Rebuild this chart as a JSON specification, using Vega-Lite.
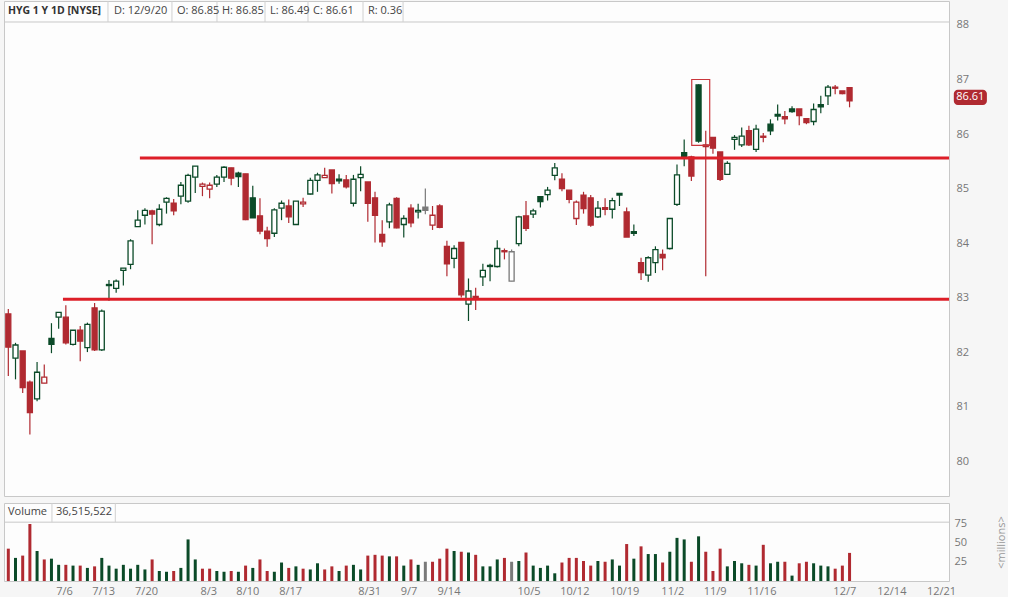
{
  "$schema": "https://vega.github.io/schema/vega-lite/v6.json",
  "background": "#f6f6f6",
  "padding": {"left": 3, "top": 0, "right": 0, "bottom": 0},
  "spacing": 5,
  "datasets": {
    "k": [
      {"i":0,"o":82.70,"h":82.79,"l":81.56,"c":82.09,"d":"d","v":42},
      {"i":1,"o":81.89,"h":82.17,"l":81.50,"c":82.13,"d":"u","v":30},
      {"i":2,"o":82.02,"h":82.02,"l":81.25,"c":81.35,"d":"d","v":33},
      {"i":3,"o":81.45,"h":81.48,"l":80.49,"c":80.89,"d":"d","v":74},
      {"i":4,"o":81.14,"h":81.82,"l":81.10,"c":81.63,"d":"u","v":39},
      {"i":5,"o":81.43,"h":81.77,"l":81.43,"c":81.54,"d":"d","v":28},
      {"i":6,"o":82.25,"h":82.53,"l":81.98,"c":82.14,"d":"u","v":29},
      {"i":7,"o":82.64,"h":82.73,"l":82.43,"c":82.73,"d":"u","v":21},
      {"i":8,"o":82.64,"h":82.86,"l":82.14,"c":82.17,"d":"d","v":21},
      {"i":9,"o":82.14,"h":82.40,"l":82.12,"c":82.40,"d":"u","v":20},
      {"i":10,"o":82.40,"h":82.48,"l":81.83,"c":82.20,"d":"d","v":20},
      {"i":11,"o":82.08,"h":82.54,"l":82.00,"c":82.51,"d":"u","v":17},
      {"i":12,"o":82.81,"h":82.90,"l":82.02,"c":82.04,"d":"d","v":19},
      {"i":13,"o":82.04,"h":82.78,"l":82.02,"c":82.75,"d":"u","v":30},
      {"i":14,"o":83.24,"h":83.32,"l":82.94,"c":83.22,"d":"u","v":20},
      {"i":15,"o":83.17,"h":83.33,"l":83.09,"c":83.30,"d":"u","v":16},
      {"i":16,"o":83.50,"h":83.54,"l":83.22,"c":83.54,"d":"u","v":21},
      {"i":17,"o":83.61,"h":84.07,"l":83.52,"c":84.04,"d":"u","v":16},
      {"i":18,"o":84.30,"h":84.60,"l":84.30,"c":84.42,"d":"u","v":21},
      {"i":19,"o":84.51,"h":84.64,"l":84.34,"c":84.60,"d":"u","v":15},
      {"i":20,"o":84.59,"h":84.61,"l":83.98,"c":84.53,"d":"d","v":28},
      {"i":21,"o":84.34,"h":84.71,"l":84.31,"c":84.62,"d":"u","v":13},
      {"i":22,"o":84.75,"h":84.84,"l":84.54,"c":84.82,"d":"u","v":12},
      {"i":23,"o":84.73,"h":84.81,"l":84.51,"c":84.59,"d":"d","v":13},
      {"i":24,"o":84.86,"h":85.12,"l":84.71,"c":85.06,"d":"u","v":17},
      {"i":25,"o":84.77,"h":85.27,"l":84.74,"c":85.24,"d":"u","v":54},
      {"i":26,"o":85.21,"h":85.41,"l":84.92,"c":85.41,"d":"u","v":28},
      {"i":27,"o":85.04,"h":85.11,"l":84.86,"c":85.08,"d":"d","v":16},
      {"i":28,"o":84.99,"h":85.11,"l":84.82,"c":85.06,"d":"d","v":16},
      {"i":29,"o":85.08,"h":85.25,"l":85.03,"c":85.21,"d":"u","v":13},
      {"i":30,"o":85.21,"h":85.41,"l":85.12,"c":85.39,"d":"u","v":12},
      {"i":31,"o":85.38,"h":85.38,"l":85.06,"c":85.19,"d":"d","v":13},
      {"i":32,"o":85.28,"h":85.31,"l":85.03,"c":85.22,"d":"u","v":12},
      {"i":33,"o":85.27,"h":85.27,"l":84.42,"c":84.43,"d":"d","v":20},
      {"i":34,"o":84.83,"h":85.05,"l":84.46,"c":84.46,"d":"u","v":17},
      {"i":35,"o":84.50,"h":84.82,"l":84.16,"c":84.22,"d":"d","v":28},
      {"i":36,"o":84.22,"h":84.30,"l":83.93,"c":84.08,"d":"d","v":13},
      {"i":37,"o":84.18,"h":84.64,"l":84.11,"c":84.61,"d":"u","v":12},
      {"i":38,"o":84.64,"h":84.78,"l":84.42,"c":84.73,"d":"u","v":24},
      {"i":39,"o":84.68,"h":84.80,"l":84.37,"c":84.48,"d":"d","v":17},
      {"i":40,"o":84.34,"h":84.77,"l":84.33,"c":84.77,"d":"u","v":19},
      {"i":41,"o":84.72,"h":84.83,"l":84.66,"c":84.75,"d":"d","v":16},
      {"i":42,"o":84.90,"h":85.20,"l":84.89,"c":85.15,"d":"u","v":15},
      {"i":43,"o":85.15,"h":85.29,"l":84.94,"c":85.25,"d":"u","v":23},
      {"i":44,"o":85.20,"h":85.38,"l":85.20,"c":85.24,"d":"d","v":15},
      {"i":45,"o":85.34,"h":85.34,"l":84.91,"c":85.09,"d":"d","v":19},
      {"i":46,"o":85.17,"h":85.26,"l":85.09,"c":85.14,"d":"u","v":13},
      {"i":47,"o":85.16,"h":85.25,"l":85.00,"c":85.03,"d":"d","v":20},
      {"i":48,"o":84.73,"h":85.25,"l":84.67,"c":85.17,"d":"u","v":21},
      {"i":49,"o":85.20,"h":85.41,"l":84.95,"c":85.26,"d":"u","v":15},
      {"i":50,"o":85.12,"h":85.12,"l":84.39,"c":84.73,"d":"d","v":33},
      {"i":51,"o":84.83,"h":84.94,"l":84.01,"c":84.51,"d":"d","v":34},
      {"i":52,"o":84.16,"h":84.42,"l":83.93,"c":84.02,"d":"d","v":33},
      {"i":53,"o":84.39,"h":84.74,"l":84.27,"c":84.70,"d":"u","v":32},
      {"i":54,"o":84.82,"h":84.84,"l":84.27,"c":84.28,"d":"d","v":32},
      {"i":55,"o":84.34,"h":84.51,"l":84.10,"c":84.45,"d":"u","v":20},
      {"i":56,"o":84.64,"h":84.71,"l":84.29,"c":84.37,"d":"d","v":28},
      {"i":57,"o":84.57,"h":84.72,"l":84.45,"c":84.60,"d":"u","v":21},
      {"i":58,"o":84.66,"h":85.00,"l":84.53,"c":84.60,"d":"f","v":25},
      {"i":59,"o":84.33,"h":84.68,"l":84.24,"c":84.51,"d":"d","v":25},
      {"i":60,"o":84.68,"h":84.71,"l":84.27,"c":84.29,"d":"d","v":29},
      {"i":61,"o":83.94,"h":84.04,"l":83.39,"c":83.62,"d":"d","v":42},
      {"i":62,"o":83.72,"h":83.96,"l":83.54,"c":83.90,"d":"u","v":39},
      {"i":63,"o":84.01,"h":84.01,"l":83.00,"c":83.05,"d":"d","v":38},
      {"i":64,"o":82.88,"h":83.35,"l":82.57,"c":83.12,"d":"u","v":37},
      {"i":65,"o":83.02,"h":83.18,"l":82.77,"c":82.97,"d":"d","v":34},
      {"i":66,"o":83.38,"h":83.62,"l":83.21,"c":83.50,"d":"u","v":19},
      {"i":67,"o":83.57,"h":83.62,"l":83.30,"c":83.59,"d":"u","v":19},
      {"i":68,"o":83.57,"h":84.05,"l":83.55,"c":83.90,"d":"u","v":28},
      {"i":69,"o":83.86,"h":83.90,"l":83.70,"c":83.84,"d":"d","v":30},
      {"i":70,"o":83.30,"h":83.88,"l":83.30,"c":83.84,"d":"f","v":25},
      {"i":71,"o":83.99,"h":84.50,"l":83.94,"c":84.48,"d":"u","v":26},
      {"i":72,"o":84.50,"h":84.77,"l":84.22,"c":84.27,"d":"d","v":37},
      {"i":73,"o":84.53,"h":84.63,"l":84.46,"c":84.59,"d":"u","v":20},
      {"i":74,"o":84.85,"h":84.85,"l":84.65,"c":84.76,"d":"u","v":17},
      {"i":75,"o":84.89,"h":85.03,"l":84.78,"c":84.97,"d":"u","v":20},
      {"i":76,"o":85.24,"h":85.47,"l":85.15,"c":85.38,"d":"u","v":10},
      {"i":77,"o":85.17,"h":85.28,"l":84.95,"c":85.00,"d":"d","v":24},
      {"i":78,"o":84.97,"h":84.97,"l":84.73,"c":84.80,"d":"d","v":30},
      {"i":79,"o":84.45,"h":84.78,"l":84.33,"c":84.75,"d":"d","v":30},
      {"i":80,"o":84.88,"h":84.94,"l":84.54,"c":84.63,"d":"d","v":26},
      {"i":81,"o":84.83,"h":84.88,"l":84.30,"c":84.33,"d":"d","v":20},
      {"i":82,"o":84.48,"h":84.77,"l":84.46,"c":84.64,"d":"u","v":26},
      {"i":83,"o":84.65,"h":84.82,"l":84.51,"c":84.62,"d":"d","v":25},
      {"i":84,"o":84.62,"h":84.83,"l":84.45,"c":84.78,"d":"u","v":28},
      {"i":85,"o":84.91,"h":84.91,"l":84.68,"c":84.88,"d":"u","v":20},
      {"i":86,"o":84.57,"h":84.65,"l":84.11,"c":84.11,"d":"d","v":48},
      {"i":87,"o":84.21,"h":84.34,"l":84.13,"c":84.18,"d":"u","v":29},
      {"i":88,"o":83.64,"h":83.73,"l":83.32,"c":83.46,"d":"d","v":45},
      {"i":89,"o":83.41,"h":83.76,"l":83.29,"c":83.73,"d":"u","v":35},
      {"i":90,"o":83.64,"h":83.94,"l":83.45,"c":83.88,"d":"u","v":35},
      {"i":91,"o":83.79,"h":83.88,"l":83.50,"c":83.73,"d":"d","v":24},
      {"i":92,"o":83.90,"h":84.45,"l":83.88,"c":84.45,"d":"u","v":38},
      {"i":93,"o":84.71,"h":85.44,"l":84.68,"c":85.25,"d":"u","v":56},
      {"i":94,"o":85.66,"h":85.90,"l":85.41,"c":85.57,"d":"u","v":54},
      {"i":95,"o":85.58,"h":85.60,"l":85.14,"c":85.23,"d":"d","v":25},
      {"i":96,"o":86.90,"h":86.91,"l":85.84,"c":85.87,"d":"u","v":58},
      {"i":97,"o":85.80,"h":86.06,"l":83.39,"c":85.77,"d":"d","v":38},
      {"i":98,"o":85.94,"h":85.94,"l":85.64,"c":85.74,"d":"d","v":13},
      {"i":99,"o":85.67,"h":85.67,"l":85.14,"c":85.17,"d":"d","v":42},
      {"i":100,"o":85.26,"h":85.50,"l":85.26,"c":85.46,"d":"u","v":19},
      {"i":101,"o":85.90,"h":85.98,"l":85.71,"c":85.94,"d":"u","v":26},
      {"i":102,"o":85.80,"h":86.12,"l":85.76,"c":85.96,"d":"u","v":23},
      {"i":103,"o":86.06,"h":86.15,"l":85.78,"c":85.80,"d":"d","v":21},
      {"i":104,"o":85.72,"h":86.17,"l":85.67,"c":86.09,"d":"u","v":20},
      {"i":105,"o":85.96,"h":86.02,"l":85.85,"c":85.94,"d":"d","v":47},
      {"i":106,"o":86.18,"h":86.27,"l":85.98,"c":86.06,"d":"u","v":23},
      {"i":107,"o":86.36,"h":86.54,"l":86.25,"c":86.33,"d":"u","v":25},
      {"i":108,"o":86.32,"h":86.42,"l":86.18,"c":86.28,"d":"d","v":25},
      {"i":109,"o":86.46,"h":86.51,"l":86.39,"c":86.41,"d":"u","v":7},
      {"i":110,"o":86.46,"h":86.46,"l":86.16,"c":86.34,"d":"d","v":23},
      {"i":111,"o":86.28,"h":86.28,"l":86.18,"c":86.21,"d":"d","v":25},
      {"i":112,"o":86.23,"h":86.56,"l":86.16,"c":86.45,"d":"u","v":23},
      {"i":113,"o":86.54,"h":86.70,"l":86.38,"c":86.50,"d":"u","v":20},
      {"i":114,"o":86.70,"h":86.90,"l":86.53,"c":86.86,"d":"u","v":19},
      {"i":115,"o":86.86,"h":86.90,"l":86.73,"c":86.84,"d":"d","v":16},
      {"i":116,"o":86.79,"h":86.79,"l":86.73,"c":86.74,"d":"d","v":20},
      {"i":117,"o":86.85,"h":86.85,"l":86.49,"c":86.61,"d":"d","v":36.5}
    ],
    "hdr": [
      {"t": "D: 12/9/20", "p": 14.7},
      {"t": "O: 86.85", "p": 23.46},
      {"t": "H: 86.85", "p": 29.72},
      {"t": "L: 86.49", "p": 36.39},
      {"t": "C: 86.61", "p": 42.37},
      {"t": "R: 0.36", "p": 50.02}
    ],
    "hdrDiv": [
      {"p": 13.86}, {"p": 22.76}, {"p": 29.02}, {"p": 35.7},
      {"p": 41.68}, {"p": 49.33}, {"p": 54.9}
    ],
    "volHdr": [
      {"t": "Volume", "p": -0.05},
      {"t": "36,515,522", "p": 6.63}
    ],
    "volDiv": [{"p": 6.07}, {"p": 14.88}],
    "sr": [
      {"y": 85.56, "x0": 18.3},
      {"y": 82.97, "x0": 7.6}
    ]
  },
  "vconcat": [
    {
      "width": 945,
      "height": 495,
      "layer": [
        {
          "data": {"name": "k"},
          "mark": {"type": "rule", "strokeWidth": 1.2},
          "encoding": {
            "x": {"field": "i", "type": "quantitative", "scale": {"domain": [-0.6, 130.83], "nice": false, "zero": false, "padding": 0}, "axis": null},
            "y": {
              "field": "l", "type": "quantitative",
              "scale": {"domain": [79.36, 88.44], "nice": false, "zero": false},
              "axis": {"orient": "right", "values": [80, 81, 82, 83, 84, 85, 86, 87, 88], "format": "d", "labelOverlap": false, "title": null, "grid": false, "ticks": false, "domain": false, "labelPadding": 7, "labelColor": "#777", "labelFontSize": 11, "labelFont": "Open Sans"}
            },
            "y2": {"field": "h"},
            "color": {"field": "d", "type": "nominal", "scale": {"domain": ["u", "d", "f"], "range": ["#0b4a28", "#b02a31", "#7a7a7a"]}, "legend": null}
          }
        },
        {
          "data": {"name": "k"},
          "mark": {"type": "bar", "width": 5, "strokeWidth": 1.3},
          "encoding": {
            "x": {"field": "i", "type": "quantitative", "scale": {"domain": [-0.6, 130.83], "nice": false, "zero": false, "padding": 0}, "axis": null},
            "y": {"field": "o", "type": "quantitative", "scale": {"domain": [79.36, 88.44], "nice": false, "zero": false}, "title": null},
            "y2": {"field": "c"},
            "fill": {
              "condition": {"test": "datum.c > datum.o", "value": "#ffffff"},
              "field": "d", "type": "nominal",
              "scale": {"domain": ["u", "d", "f"], "range": ["#0b4a28", "#b02a31", "#7a7a7a"]}, "legend": null
            },
            "stroke": {"field": "d", "type": "nominal", "scale": {"domain": ["u", "d", "f"], "range": ["#0b4a28", "#b02a31", "#7a7a7a"]}, "legend": null}
          }
        },
        {
          "data": {"values": [{}]},
          "mark": {"type": "rule", "color": "#c8c8c8", "strokeWidth": 1},
          "encoding": {
            "x": {"datum": -0.6, "type": "quantitative", "scale": {"domain": [-0.6, 130.83], "nice": false, "zero": false, "padding": 0}, "axis": null},
            "x2": {"datum": 130.83},
            "y": {"datum": 88.055, "type": "quantitative", "scale": {"domain": [79.36, 88.44], "nice": false, "zero": false}, "title": null}
          }
        },
        {
          "data": {"name": "hdrDiv"},
          "mark": {"type": "rule", "color": "#d0d0d0", "strokeWidth": 1},
          "encoding": {
            "x": {"field": "p", "type": "quantitative", "scale": {"domain": [-0.6, 130.83], "nice": false, "zero": false, "padding": 0}, "axis": null},
            "y": {"datum": 88.44, "type": "quantitative", "scale": {"domain": [79.36, 88.44], "nice": false, "zero": false}, "title": null},
            "y2": {"datum": 88.055}
          }
        },
        {
          "data": {"name": "hdr"},
          "mark": {"type": "text", "align": "left", "baseline": "middle", "fontSize": 11, "color": "#444", "font": "Open Sans"},
          "encoding": {
            "x": {"field": "p", "type": "quantitative", "scale": {"domain": [-0.6, 130.83], "nice": false, "zero": false, "padding": 0}, "axis": null},
            "y": {"datum": 88.255, "type": "quantitative", "scale": {"domain": [79.36, 88.44], "nice": false, "zero": false}, "title": null},
            "text": {"field": "t"}
          }
        },
        {
          "data": {"values": [{}]},
          "mark": {"type": "text", "align": "left", "baseline": "middle", "fontSize": 10.5, "fontWeight": "bold", "color": "#333", "font": "Open Sans", "text": "HYG 1 Y 1D [NYSE]"},
          "encoding": {
            "x": {"datum": -0.05, "type": "quantitative", "scale": {"domain": [-0.6, 130.83], "nice": false, "zero": false, "padding": 0}, "axis": null},
            "y": {"datum": 88.255, "type": "quantitative", "scale": {"domain": [79.36, 88.44], "nice": false, "zero": false}, "title": null}
          }
        },
        {
          "data": {"name": "sr"},
          "mark": {"type": "rule", "color": "#dd1f28", "strokeWidth": 3},
          "encoding": {
            "x": {"field": "x0", "type": "quantitative", "scale": {"domain": [-0.6, 130.83], "nice": false, "zero": false, "padding": 0}, "axis": null},
            "x2": {"datum": 130.83},
            "y": {"field": "y", "type": "quantitative", "scale": {"domain": [79.36, 88.44], "nice": false, "zero": false}, "title": null}
          }
        },
        {
          "data": {"values": [{}]},
          "mark": {"type": "rect", "fillOpacity": 0, "stroke": "#c9363c", "strokeWidth": 1.2},
          "encoding": {
            "x": {"datum": 95.05, "type": "quantitative", "scale": {"domain": [-0.6, 130.83], "nice": false, "zero": false, "padding": 0}, "axis": null},
            "x2": {"datum": 97.55},
            "y": {"datum": 87.0, "type": "quantitative", "scale": {"domain": [79.36, 88.44], "nice": false, "zero": false}, "title": null},
            "y2": {"datum": 85.79}
          }
        },
        {
          "data": {"values": [{}]},
          "mark": {"type": "rect", "fill": "#b02a31", "cornerRadius": 4, "clip": false},
          "encoding": {
            "x": {"datum": 131.5, "type": "quantitative", "scale": {"domain": [-0.6, 130.83], "nice": false, "zero": false, "padding": 0}, "axis": null},
            "x2": {"datum": 136.1},
            "y": {"datum": 86.81, "type": "quantitative", "scale": {"domain": [79.36, 88.44], "nice": false, "zero": false}, "title": null},
            "y2": {"datum": 86.53}
          }
        },
        {
          "data": {"values": [{}]},
          "mark": {"type": "text", "color": "#ffffff", "fontSize": 11, "font": "Open Sans", "align": "center", "baseline": "middle", "text": "86.61", "clip": false},
          "encoding": {
            "x": {"datum": 133.8, "type": "quantitative", "scale": {"domain": [-0.6, 130.83], "nice": false, "zero": false, "padding": 0}, "axis": null},
            "y": {"datum": 86.67, "type": "quantitative", "scale": {"domain": [79.36, 88.44], "nice": false, "zero": false}, "title": null}
          }
        }
      ]
    },
    {
      "width": 945,
      "height": 78,
      "resolve": {"scale": {"y": "independent"}, "axis": {"y": "independent"}},
      "layer": [
        {
          "data": {"name": "k"},
          "mark": {"type": "bar", "width": 3},
          "encoding": {
            "x": {
              "field": "i", "type": "quantitative",
              "scale": {"domain": [-0.6, 130.83], "nice": false, "zero": false, "padding": 0},
              "axis": {
                "title": null, "grid": false, "ticks": false, "domain": false,
                "values": [7.74, 13.19, 19.15, 27.8, 33.24, 39.2, 50.19, 55.66, 61.22, 72.35, 78.72, 85.67, 92.35, 98.24, 104.73, 116.27, 122.81, 129.72],
                "labelExpr": "['7/6','7/13','7/20','8/3','8/10','8/17','8/31','9/7','9/14','10/5','10/12','10/19','11/2','11/9','11/16','12/7','12/14','12/21'][indexof([774,1319,1915,2780,3324,3920,5019,5566,6122,7235,7872,8567,9235,9824,10473,11627,12281,12972], round(datum.value*100))]",
                "labelPadding": 4, "labelColor": "#777", "labelFontSize": 11, "labelFont": "Open Sans", "labelOverlap": false, "labelFlush": false
              }
            },
            "y": {
              "field": "v", "type": "quantitative",
              "scale": {"domain": [0, 101.3], "nice": false, "zero": false},
              "axis": {"orient": "right", "values": [25, 50, 75], "labelOverlap": false, "title": "<millions>", "titleAngle": 270, "titleFontWeight": "normal", "titleColor": "#999", "titleFontSize": 11, "titleFont": "Open Sans", "titlePadding": 40, "grid": false, "ticks": false, "domain": false, "labelPadding": 5, "labelColor": "#777", "labelFontSize": 11, "labelFont": "Open Sans"}
            },
            "color": {"field": "d", "type": "nominal", "scale": {"domain": ["u", "d", "f"], "range": ["#0b4a28", "#a8323a", "#7a7a7a"]}, "legend": null}
          }
        },
        {
          "data": {"values": [{}]},
          "mark": {"type": "rule", "color": "#c8c8c8", "strokeWidth": 1},
          "encoding": {
            "x": {"datum": -0.6, "type": "quantitative", "scale": {"domain": [-0.6, 130.83], "nice": false, "zero": false, "padding": 0}, "title": null},
            "x2": {"datum": 130.83},
            "y": {"datum": 76.4, "type": "quantitative", "scale": {"domain": [0, 101.3], "nice": false, "zero": false}, "axis": null}
          }
        },
        {
          "data": {"name": "volDiv"},
          "mark": {"type": "rule", "color": "#d0d0d0", "strokeWidth": 1},
          "encoding": {
            "x": {"field": "p", "type": "quantitative", "scale": {"domain": [-0.6, 130.83], "nice": false, "zero": false, "padding": 0}, "title": null},
            "y": {"datum": 101.3, "type": "quantitative", "scale": {"domain": [0, 101.3], "nice": false, "zero": false}, "axis": null},
            "y2": {"datum": 76.4}
          }
        },
        {
          "data": {"name": "volHdr"},
          "mark": {"type": "text", "align": "left", "baseline": "middle", "fontSize": 11, "color": "#444", "font": "Open Sans"},
          "encoding": {
            "x": {"field": "p", "type": "quantitative", "scale": {"domain": [-0.6, 130.83], "nice": false, "zero": false, "padding": 0}, "title": null},
            "y": {"datum": 89.0, "type": "quantitative", "scale": {"domain": [0, 101.3], "nice": false, "zero": false}, "axis": null},
            "text": {"field": "t"}
          }
        }
      ]
    }
  ],
  "config": {
    "view": {"stroke": "#c8c8c8", "fill": "#fdfdfd"},
    "font": "Open Sans"
  }
}
